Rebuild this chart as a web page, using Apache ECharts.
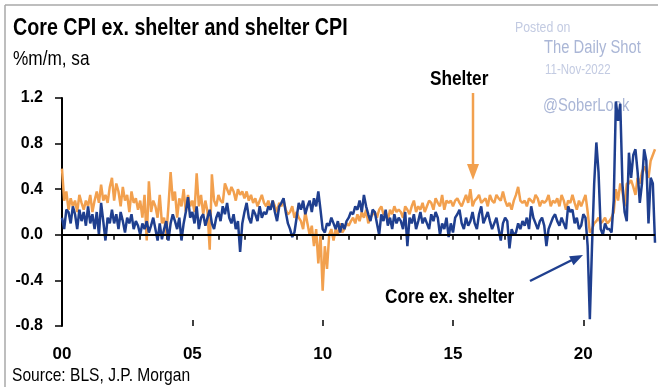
<!DOCTYPE html>
<html><head><meta charset="utf-8">
<script src="https://cdn.jsdelivr.net/npm/echarts@6/dist/echarts.min.js"></script>
<style>html,body{margin:0;padding:0;background:#fff}#c{width:658px;height:387px}</style>
</head><body><div id="c"></div>
<script>
// Monthly data, Jan 2000 - Oct 2022 (%m/m, sa)
const startYear = 2000, endYear = 2022, endMonth = 10;
const tickLabels = ['00', '05', '10', '15', '20'];
const yTicks = [-0.8, -0.4, 0.0, 0.4, 0.8, 1.2];

const coreExShelter = [
  0.15,0.05,0.22,0.2,0.1,0.25,0.18,0.05,0.22,0.12,0.2,0.08,
  0.25,0.1,0.18,0.05,0.2,0.0,0.28,0.12,-0.05,0.15,0.1,0.22,
  0.1,0.18,0.05,0.2,0.12,0.02,0.15,0.1,0.18,0.05,0.12,0.08,
  0.0,0.1,0.05,0.12,0.02,0.08,0.15,0.05,-0.05,0.1,-0.04,0.05,
  0.12,-0.05,0.1,0.18,0.12,0.05,0.15,-0.05,0.1,0.2,0.33,0.15,
  0.2,0.1,0.25,0.05,0.15,0.18,0.08,0.15,0.22,0.1,0.05,0.15,
  0.2,0.12,0.25,0.18,0.28,0.15,0.1,0.18,0.05,0.12,-0.15,0.1,
  0.2,0.28,0.15,0.1,0.22,0.18,0.12,0.25,0.15,0.2,0.18,0.25,
  0.22,0.3,0.2,0.12,0.25,0.28,0.32,0.2,0.1,0.05,-0.02,0.02,
  0.15,0.28,0.22,0.3,0.18,0.25,0.3,0.2,0.32,0.25,0.38,0.22,
  0.05,0.02,0.1,0.08,0.15,0.1,0.05,0.12,0.02,0.1,0.05,0.12,
  0.15,0.2,0.18,0.25,0.22,0.3,0.2,0.35,0.25,0.18,0.12,0.22,
  0.2,0.1,0.0,0.18,0.12,0.22,0.08,0.15,0.05,0.18,0.1,0.15,
  0.12,0.05,0.2,-0.1,0.15,0.1,0.18,0.05,0.12,0.2,0.1,0.15,
  0.1,0.05,0.18,0.12,0.2,0.15,0.0,0.1,0.05,0.15,-0.02,0.1,
  0.02,0.15,0.18,0.22,0.1,0.05,0.15,0.08,0.12,0.2,0.1,0.05,
  0.18,0.25,0.1,0.15,0.2,0.12,0.05,0.1,0.15,0.05,-0.05,0.1,
  0.15,0.12,-0.12,0.05,0.0,0.02,0.1,0.05,0.12,0.08,0.15,0.05,
  0.25,0.15,0.1,0.05,0.12,0.15,0.08,-0.1,0.05,0.1,0.15,0.18,
  0.12,0.08,0.15,0.1,0.05,0.25,0.2,0.22,0.1,0.15,0.05,0.08,
  0.18,0.15,-0.1,-0.74,-0.1,0.45,0.81,0.55,0.05,0.0,0.1,0.05,
  0.05,0.02,0.3,1.17,1.0,1.15,0.45,0.2,0.12,0.72,0.5,0.7,
  0.75,0.55,0.28,0.45,0.75,0.65,0.1,0.5,0.45,-0.07
];

const shelterCPI = [
  0.58,0.3,0.38,0.22,0.32,0.25,0.3,0.2,0.35,0.28,0.22,0.3,
  0.25,0.35,0.2,0.3,0.38,0.28,0.44,0.3,0.35,0.28,0.42,0.5,
  0.3,0.45,0.38,0.25,0.42,0.3,0.35,0.2,0.38,0.28,0.32,0.22,
  0.3,0.15,0.35,-0.05,0.47,0.2,0.3,0.25,0.15,0.35,0.1,0.15,
  0.0,0.25,0.55,0.3,0.38,0.15,0.32,0.25,0.4,0.2,0.35,0.25,
  0.3,0.2,0.54,0.25,0.35,0.18,0.3,0.2,-0.13,0.53,0.3,0.25,
  0.35,0.3,0.28,0.45,0.4,0.35,0.42,0.38,0.3,0.4,0.35,0.38,
  0.32,0.38,0.3,0.35,0.28,0.32,0.25,0.3,0.35,0.28,0.25,0.3,
  0.22,0.3,0.25,0.2,0.28,0.25,0.3,0.22,0.18,0.2,0.25,0.15,
  0.2,0.15,0.12,0.05,0.2,0.1,0.0,0.08,-0.1,0.05,-0.25,0.0,
  -0.49,-0.1,-0.3,0.0,0.05,-0.05,0.05,0.0,0.1,0.02,0.05,0.1,
  0.08,0.12,0.15,0.1,0.18,0.12,0.2,0.15,0.22,0.1,0.15,0.18,
  0.2,0.15,0.22,0.25,0.18,0.2,0.12,0.22,0.18,0.25,0.2,0.22,
  0.2,0.15,0.25,0.22,0.18,0.25,0.3,0.2,0.25,0.22,0.28,0.2,
  0.25,0.3,0.28,0.22,0.32,0.28,0.25,0.35,0.22,0.3,0.28,0.3,
  0.25,0.3,0.32,0.28,0.25,0.3,0.35,0.28,0.4,0.25,0.3,0.32,
  0.35,0.28,0.3,0.32,0.25,0.35,0.3,0.28,0.35,0.32,0.3,0.38,
  0.3,0.25,0.28,0.22,0.3,0.35,0.42,0.3,0.28,0.3,0.25,0.32,
  0.3,0.28,0.35,0.32,0.25,0.3,0.28,0.3,0.35,0.25,0.3,0.28,
  0.32,0.25,0.35,0.3,0.22,0.3,0.28,0.35,0.28,0.22,0.3,0.25,
  0.3,0.35,0.2,0.02,0.05,0.1,0.12,0.15,0.1,0.12,0.15,0.1,
  0.12,0.15,0.2,0.4,0.3,0.45,0.38,0.25,0.45,0.45,0.48,0.42,
  0.35,0.5,0.45,0.55,0.6,0.55,0.5,0.65,0.7,0.75
];

// Month category labels
const months = [];
for (let y = startYear; y <= endYear; y++) {
  for (let m = 1; m <= 12; m++) {
    if (y === endYear && m > endMonth) break;
    months.push(y + '-' + (m < 10 ? '0' + m : m));
  }
}

const ORANGE = '#f2a04e';
const BLUE = '#1f3f8f';
const SANS = '"Liberation Sans",Arial,sans-serif';
const WM = '#aab6d6';
const WM2 = '#c3cbe2';

function txt(x, y, text, font, fill, sx) {
  return {
    type: 'text', x: x, y: y, scaleX: sx, originX: 0, originY: 0,
    style: {text: text, x: 0, y: 0, font: font + ' ' + SANS, fill: fill, textAlign: 'left', textVerticalAlign: 'middle'}
  };
}

const chart = echarts.init(document.getElementById('c'), null, {renderer: 'canvas'});
chart.setOption({
  animation: false,
  backgroundColor: '#fff',
  grid: {left: 62, right: 3, top: 98, bottom: 61},
  xAxis: [{
    type: 'category', data: months, boundaryGap: false,
    axisLine: {lineStyle: {color: '#000', width: 2}},
    axisTick: {interval: function (i) { return i % 12 === 0; }, length: 5, lineStyle: {color: '#000', width: 1.5}},
    axisLabel: {
      interval: function (i) { return i % 60 === 0; },
      formatter: function (v) { const idx = (parseInt(v.slice(0, 4)) - startYear) / 5; return tickLabels[idx] || ''; },
      fontFamily: SANS, fontWeight: 'bold', fontSize: 17, color: '#000', margin: 20
    },
    splitLine: {show: false}
  }, {
    type: 'category', data: months, boundaryGap: false, position: 'bottom',
    axisLine: {show: false},
    axisTick: {interval: function (i) { return i % 60 === 0; }, inside: true, length: 6, lineStyle: {color: '#000', width: 1.5}},
    axisLabel: {show: false}, splitLine: {show: false}
  }],
  yAxis: {
    type: 'value', min: yTicks[0], max: yTicks[yTicks.length - 1], interval: 0.4,
    axisLine: {show: true, lineStyle: {color: '#000', width: 2}},
    axisTick: {show: true, length: 7, lineStyle: {color: '#000', width: 1.5}},
    axisLabel: {formatter: function (v) { return v.toFixed(1); }, fontFamily: SANS, fontWeight: 'bold', fontSize: 16, color: '#000', margin: 19},
    splitLine: {show: false}
  },
  series: [{
    name: 'Shelter', type: 'line', data: shelterCPI, showSymbol: false, symbol: 'none',
    lineStyle: {color: ORANGE, width: 2.5}, itemStyle: {color: ORANGE}
  }, {
    name: 'Core ex. shelter', type: 'line', data: coreExShelter, showSymbol: false, symbol: 'none',
    lineStyle: {color: BLUE, width: 2.5}, itemStyle: {color: BLUE},
    markLine: {silent: true, symbol: 'none', label: {show: false}, lineStyle: {color: '#000', width: 2, type: 'solid'}, data: [{yAxis: 0}]}
  }],
  graphic: [
    {type: 'line', shape: {x1: 5, y1: 5, x2: 658, y2: 5}, style: {stroke: '#a8a8a8', lineWidth: 1.5}},
    {type: 'line', shape: {x1: 5, y1: 5, x2: 5, y2: 387}, style: {stroke: '#a8a8a8', lineWidth: 1.5}},
    txt(13, 28, 'Core CPI ex. shelter and shelter CPI', 'bold 24px', '#000', 0.82),
    txt(13, 59, '%m/m, sa', '21px', '#000', 0.82),
    txt(12, 376, 'Source: BLS, J.P. Morgan', '19px', '#000', 0.82),
    txt(515, 28, 'Posted on', '15px', WM2, 0.82),
    txt(544, 48, 'The Daily Shot', '18px', WM, 0.82),
    txt(545, 70, '11-Nov-2022', '14px', WM2, 0.82),
    txt(543, 106, '@SoberLook', '18px', WM, 0.82),
    txt(430, 79, 'Shelter', 'bold 21px', '#000', 0.82),
    txt(385, 297, 'Core ex. shelter', 'bold 21px', '#000', 0.82),
    {type: 'line', shape: {x1: 473, y1: 93, x2: 473, y2: 168}, style: {stroke: ORANGE, lineWidth: 2.5}},
    {type: 'polygon', shape: {points: [[473, 180], [467, 164], [479, 164]]}, style: {fill: ORANGE}},
    {type: 'line', shape: {x1: 530, y1: 281, x2: 572, y2: 260}, style: {stroke: BLUE, lineWidth: 2.5}},
    {type: 'polygon', shape: {points: [[583, 255], [573.5, 265.2], [569.1, 256.2]]}, style: {fill: BLUE}}
  ]
});
</script></body></html>
